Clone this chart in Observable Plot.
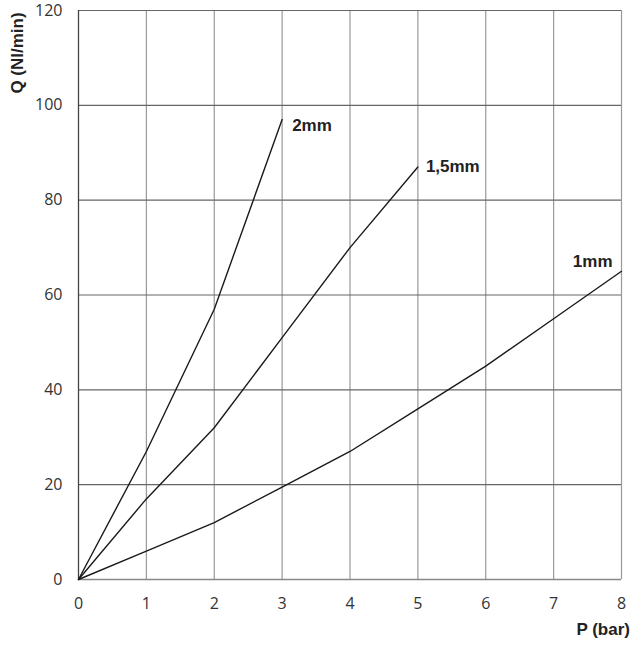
<!DOCTYPE html>
<html>
<head>
<meta charset="utf-8">
<script src="https://cdn.jsdelivr.net/npm/d3@7"></script>
<script src="https://cdn.jsdelivr.net/npm/@observablehq/plot@0.6"></script>
<style>
  html, body { margin: 0; padding: 0; background: #fff; }
</style>
</head>
<body>
<div id="chart"></div>
<script>
const pressure = [0, 1, 2, 3, 4, 5, 6, 7, 8];
const flow2mm = [0, 27, 57, 97];
const flow15mm = [0, 17, 32, 51, 70, 87];
const flow1mm = [0, 6, 12, 19.5, 27, 36, 45, 55, 65];
const seriesNames = ["2mm", "1,5mm", "1mm"];
const xTicks = [0, 1, 2, 3, 4, 5, 6, 7, 8];
const yTicks = [0, 20, 40, 60, 80, 100, 120];
const xTitle = "P (bar)";
const yTitle = "Q (Nl/min)";

const seriesFlows = [flow2mm, flow15mm, flow1mm];
const rows = seriesFlows.flatMap((arr, i) =>
  arr.map((q, j) => ({ series: seriesNames[i], p: pressure[j], q }))
);
const ends = seriesFlows.map((arr, i) => ({
  series: seriesNames[i], p: pressure[arr.length - 1], q: arr[arr.length - 1]
}));

const labelFont = { fontFamily: "'Liberation Sans', Arial, sans-serif", fontWeight: "bold", fontSize: 17, fill: "#222" };

const chart = Plot.plot({
  width: 631,
  height: 645,
  marginLeft: 78,
  marginRight: 10,
  marginTop: 10,
  marginBottom: 66,
  style: { fontFamily: "'Open Sans', 'DejaVu Sans', sans-serif", fontSize: "16px", color: "#333", background: "#fff", overflow: "visible" },
  x: { domain: [0, 8], ticks: xTicks, tickSize: 0, tickPadding: 18, label: null },
  y: { domain: [0, 120], ticks: yTicks, tickSize: 0, tickPadding: 16, label: null },
  marks: [
    Plot.ruleX(xTicks.slice(1), { stroke: "#999", strokeWidth: 1.2 }),
    Plot.ruleY(yTicks.slice(1), { stroke: "#666", strokeWidth: 1.2 }),
    Plot.ruleX([0], { stroke: "#444", strokeWidth: 1.3 }),
    Plot.ruleY([0], { stroke: "#888", strokeWidth: 1.3 }),
    Plot.line(rows, { x: "p", y: "q", z: "series", stroke: "#1a1a1a", strokeWidth: 1.4 }),
    Plot.text(ends.filter(d => d.series === "2mm"), {
      x: "p", y: "q", text: "series", textAnchor: "start", dx: 10, dy: 6, ...labelFont
    }),
    Plot.text(ends.filter(d => d.series === "1,5mm"), {
      x: "p", y: "q", text: "series", textAnchor: "start", dx: 8, dy: 0, ...labelFont
    }),
    Plot.text(ends.filter(d => d.series === "1mm"), {
      x: "p", y: "q", text: "series", textAnchor: "end", dx: -9, dy: -10, ...labelFont
    }),
    Plot.axisX({ ticks: xTicks, tickSize: 0, tickPadding: 18, label: null, fill: "#333" }),
    Plot.axisY({ ticks: yTicks, tickSize: 0, tickPadding: 16, label: null, fill: "#333" })
  ]
});
document.getElementById("chart").appendChild(chart);

// Axis titles
const svg = d3.select(chart.tagName.toLowerCase() === "svg" ? chart : chart.querySelector("svg"));
svg.append("text")
  .attr("x", 630).attr("y", 635)
  .attr("text-anchor", "end")
  .attr("font-family", "'Liberation Sans', Arial, sans-serif")
  .attr("font-weight", "bold").attr("font-size", 17).attr("fill", "#222")
  .text(xTitle);
svg.append("text")
  .attr("transform", "translate(23,53) rotate(-90)")
  .attr("text-anchor", "middle")
  .attr("font-family", "'Liberation Sans', Arial, sans-serif")
  .attr("font-weight", "bold").attr("font-size", 17).attr("fill", "#222")
  .text(yTitle);
</script>
</body>
</html>
